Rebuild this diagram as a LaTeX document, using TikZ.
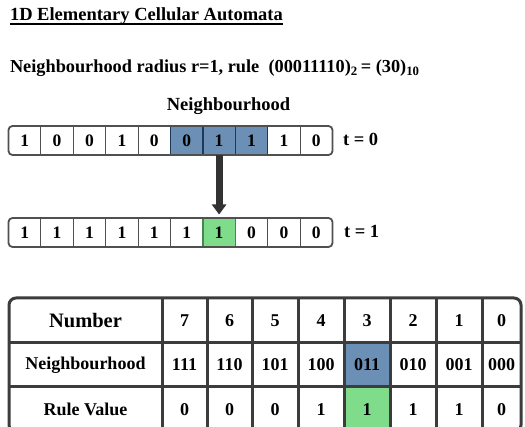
\documentclass[tikz,border=0pt]{standalone}
\usepackage{fontspec}
\setmainfont{Liberation Serif}
\usetikzlibrary{arrows.meta}
\definecolor{cellblue}{RGB}{108,143,181}
\definecolor{edgeblue}{RGB}{30,58,90}
\definecolor{cellgreen}{RGB}{126,220,138}
\definecolor{edgegreen}{RGB}{70,135,80}
\definecolor{rowline}{RGB}{80,80,80}
\definecolor{tabline}{RGB}{60,60,60}
\definecolor{arrowc}{RGB}{50,50,50}
\begin{document}
\begin{tikzpicture}[x=1pt,y=-1pt,
  txt/.style={inner sep=0pt,outer sep=0pt},
  cell/.style={minimum width=32.4pt,minimum height=29pt,inner sep=0pt,outer sep=0pt,
    font=\bfseries\fontsize{17.5}{18}\selectfont},
  tcell/.style={minimum height=44.5pt,inner sep=0pt,outer sep=0pt,
    font=\bfseries\fontsize{18}{18}\selectfont},
  divider/.style={draw=rowline,line width=1pt},
  rowframe/.style={draw=rowline,line width=1.8pt,rounded corners=4pt},
  tabgrid/.style={draw=tabline,line width=3pt},
  tabframe/.style={draw=tabline,line width=3pt,rounded corners=7pt}]
\clip (0,0) rectangle (525,427);
\fill[white] (0,0) rectangle (525,427);

% titles
\node[txt,anchor=base west,font=\bfseries\fontsize{18.5}{20}\selectfont] (title) at (10,21) {1D Elementary Cellular Automata};
\draw[line width=1.2pt] ([yshift=-3pt]title.base west) -- ([yshift=-3pt]title.base east);
\node[txt,anchor=base west,font=\bfseries\fontsize{18.3}{20}\selectfont] (sub) at (10,72.5)
  {Neighbourhood radius r=1, rule\ \ (00011110)\textsubscript{2}\,= (30)\textsubscript{10}};

\node[txt,anchor=base,font=\bfseries\fontsize{18.5}{20}\selectfont] (nlabel) at (228.5,111) {Neighbourhood};

% row t = 0
\foreach \i/\v/\f in {0/1/white,1/0/white,2/0/white,3/1/white,4/0/white,5/0/cellblue,6/1/cellblue,7/1/cellblue,8/1/white,9/0/white}
  \node[cell,fill=\f] (a\i) at ({24.7+32.4*\i},140.5) {\v};
% row t = 1
\foreach \i/\v/\f in {0/1/white,1/1/white,2/1/white,3/1/white,4/1/white,5/1/white,6/1/cellgreen,7/0/white,8/0/white,9/0/white}
  \node[cell,fill=\f] (b\i) at ({24.7+32.4*\i},232.5) {\v};

\foreach \i in {0,...,8} {
  \draw[divider] (a\i.north east) -- (a\i.south east);
  \draw[divider] (b\i.north east) -- (b\i.south east);
}
\draw[draw=edgeblue,line width=1.2pt] (a5.north west) rectangle (a7.south east);
\draw[draw=edgeblue,line width=1.2pt] (a5.north east) -- (a5.south east);
\draw[draw=edgeblue,line width=1.2pt] (a6.north east) -- (a6.south east);
\draw[draw=edgegreen,line width=1.2pt] (b6.north west) rectangle (b6.south east);
\draw[rowframe] (a0.north west) rectangle (a9.south east);
\draw[rowframe] (b0.north west) rectangle (b9.south east);

\node[txt,anchor=base west,font=\bfseries\fontsize{18.5}{20}\selectfont] (t0) at (343,145.5) {t = 0};
\node[txt,anchor=base west,font=\bfseries\fontsize{18.5}{20}\selectfont] (t1) at (344,237.5) {t = 1};

% arrow
\draw[draw=arrowc,line width=7pt,-{Triangle[width=14pt,length=10pt]},shorten >=3.5pt] (a6.south) -- (b6.north);

% table
\node[tcell,minimum width=153pt,font=\bfseries\fontsize{20.5}{21}\selectfont] (n0) at (85.5,320.25) {Number};
\node[tcell,minimum width=153pt] (h0) at (85.5,364.75) {Neighbourhood};
\node[tcell,minimum width=153pt,minimum height=45pt] (r0) at (85.5,409.5) {Rule Value};
\foreach \j/\cx/\w/\a/\b/\c/\fb/\fc in {
  1/184.5/45/7/111/0/white/white,
  2/229.5/45/6/110/0/white/white,
  3/275/46/5/101/0/white/white,
  4/321/46/4/100/1/white/white,
  5/367/46/3/011/1/cellblue/cellgreen,
  6/413/46/2/010/1/white/white,
  7/459/46/1/001/1/white/white,
  8/501.5/39/0/000/0/white/white} {
  \node[tcell,minimum width=\w pt] (n\j) at (\cx,320.25) {\a};
  \node[tcell,minimum width=\w pt,fill=\fb] (h\j) at (\cx,364.75) {\b};
  \node[tcell,minimum width=\w pt,minimum height=45pt,fill=\fc] (r\j) at (\cx,409.5) {\c};
}
\foreach \j in {0,...,7}
  \draw[tabgrid] (n\j.north east) -- (r\j.south east);
\draw[tabgrid] (n0.south west) -- (n8.south east);
\draw[tabgrid] (h0.south west) -- (h8.south east);
\draw[tabframe] (n0.north west) rectangle (r8.south east);
\end{tikzpicture}
\end{document}
